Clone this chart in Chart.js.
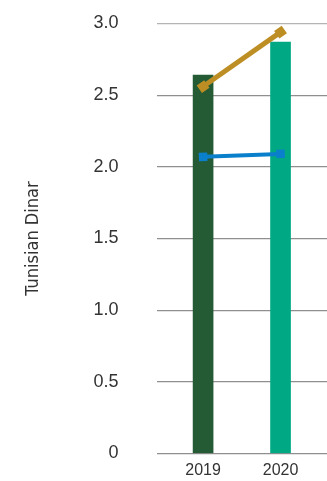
<!DOCTYPE html>
<html>
<head>
<meta charset="utf-8">
<script src="https://cdn.jsdelivr.net/npm/chart.js@4"></script>
<style>
  html, body { margin: 0; padding: 0; background: #fff; }
  #wrap { width: 327px; height: 481px; }
</style>
</head>
<body>
<div id="wrap"><canvas id="chart"></canvas></div>
<script>
// Years on the x axis
const years = [2019, 2020];
// Bar series (one colour per year)
const barValues = [2.64, 2.87];
// Upper line (gold) and lower line (blue)
const goldValues = [2.56, 2.94];
const blueValues = [2.07, 2.09];
// Y tick labels
const yTicks = [0, 0.5, 1.0, 1.5, 2.0, 2.5, 3.0];

function toPoints(values) {
    return years.map((y, i) => ({ x: y, y: values[i] }));
}

// angle of a line segment in screen space, so the square markers follow it
function segAngle(chart, values) {
    const xs = chart.scales.x, ys = chart.scales.y;
    const dx = xs.getPixelForValue(years[1]) - xs.getPixelForValue(years[0]);
    const dy = ys.getPixelForValue(values[1]) - ys.getPixelForValue(values[0]);
    return Math.atan2(dy, dx) * 180 / Math.PI;
}

const ctx = document.getElementById('chart').getContext('2d');
const chart = new Chart(ctx, {
    data: {
        datasets: [
            {
                type: 'line',
                data: toPoints(goldValues),
                borderColor: '#BD8E24',
                backgroundColor: '#BD8E24',
                borderWidth: 5,
                pointStyle: 'rect',
                pointRadius: 6.5,
                pointBorderWidth: 0,
                pointRotation: c => segAngle(c.chart, goldValues),
                order: 1
            },
            {
                type: 'line',
                data: toPoints(blueValues),
                borderColor: '#0A80CC',
                backgroundColor: '#0A80CC',
                borderWidth: 4,
                pointStyle: 'rect',
                pointRadius: 6,
                pointBorderWidth: 0,
                pointRotation: c => segAngle(c.chart, blueValues),
                order: 1
            },
            {
                type: 'bar',
                data: toPoints(barValues),
                backgroundColor: ['#245B35', '#00A983'],
                barThickness: 20,
                order: 2
            }
        ]
    },
    options: {
        responsive: true,
        maintainAspectRatio: false,
        animation: false,
        layout: { autoPadding: false, padding: { top: 23.5, right: 0, bottom: 0, left: 0 } },
        plugins: {
            legend: { display: false },
            tooltip: { enabled: false }
        },
        scales: {
            x: {
                type: 'linear',
                offset: false,
                min: 2018.4,
                max: 2020.6,
                afterBuildTicks: axis => { axis.ticks = years.map(v => ({ value: v })); },
                // keep the label band tight below the zero line
                afterFit: axis => { axis.height = 27.5; },
                grid: { display: false, drawTicks: false },
                border: { display: false },
                ticks: {
                    padding: 7,
                    maxRotation: 0,
                    autoSkip: false,
                    color: '#333',
                    font: { family: 'Liberation Sans', size: 16 },
                    callback: v => String(v)
                }
            },
            y: {
                min: 0,
                max: 3,
                afterBuildTicks: axis => { axis.ticks = yTicks.map(v => ({ value: v })); },
                border: { display: false },
                grid: {
                    drawTicks: true,
                    tickLength: 36,
                    tickColor: 'rgba(0,0,0,0)',
                    color: c => (c.tick && c.tick.value === 3 ? '#b4b4b4' : '#8f8f8f'),
                    lineWidth: 1.3
                },
                ticks: {
                    padding: 2,
                    color: '#333',
                    font: { family: 'Liberation Sans', size: 18 },
                    callback: v => (v === 0 ? '0' : Number(v).toFixed(1))
                },
                title: {
                    display: true,
                    text: 'Tunisian Dinar',
                    color: '#333',
                    font: { family: "'DejaVu Sans Condensed', 'Liberation Sans'", size: 18 },
                    padding: { top: 23, bottom: 47 }
                }
            }
        }
    }
});
</script>
</body>
</html>
